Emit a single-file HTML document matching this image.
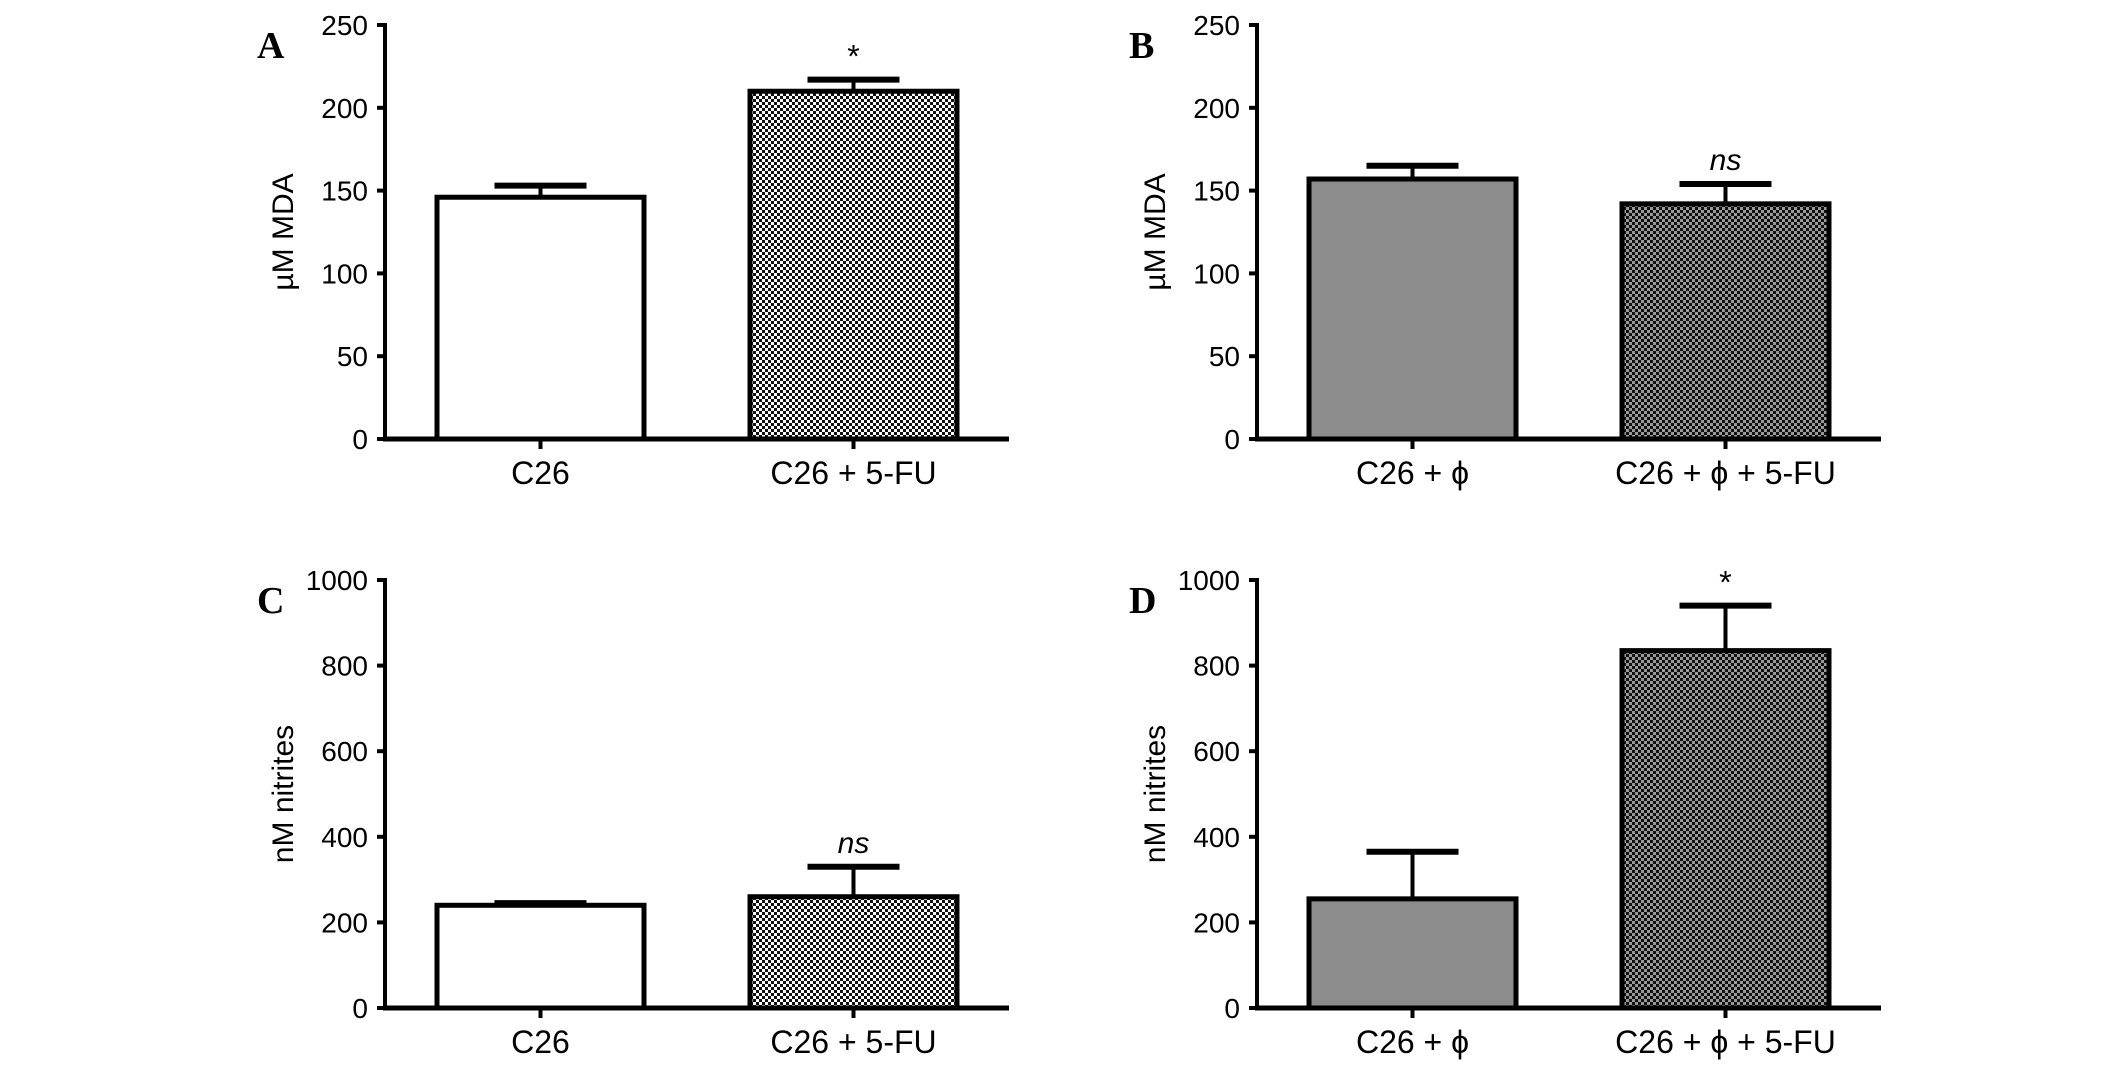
<!DOCTYPE html>
<html><head><meta charset="utf-8"><style>
html,body{margin:0;padding:0;background:#fff}
svg{display:block}
text{font-family:"Liberation Sans",Arial,sans-serif;fill:#000}
text.serif{font-family:"Liberation Serif","Times New Roman",serif}
</style></head><body>
<svg id="chart" width="2126" height="1068" viewBox="0 0 2126 1068" xmlns="http://www.w3.org/2000/svg">
<defs>
<pattern id="chkLight" width="6" height="6" patternUnits="userSpaceOnUse">
<rect width="6" height="6" fill="#fff"/><rect width="3" height="3" fill="#111"/><rect x="3" y="3" width="3" height="3" fill="#111"/>
</pattern>
<pattern id="chkDark" width="6" height="6" patternUnits="userSpaceOnUse">
<rect width="6" height="6" fill="#999"/><rect width="3" height="3" fill="#111"/><rect x="3" y="3" width="3" height="3" fill="#111"/>
</pattern>
</defs>
</svg>
<script>
const panelLetters = ['A','B','C','D'];
const yTitles = ['µM MDA','µM MDA','nM nitrites','nM nitrites'];
const yMaxes = [250,250,1000,1000];
const yTickStep = [50,50,200,200];
const catsA = ['C26','C26 + 5-FU'];
const catsB = ['C26 + ϕ','C26 + ϕ + 5-FU'];
const valuesA = [146,210];
const errorsA = [153,217];
const valuesB = [157,142];
const errorsB = [165,154];
const valuesC = [240,260];
const errorsC = [245,330];
const valuesD = [255,835];
const errorsD = [365,940];
const sigA = ['','*'];
const sigB = ['','ns'];
const sigC = ['','ns'];
const sigD = ['','*'];

const svg = document.getElementById('chart');
const NS = 'http://www.w3.org/2000/svg';
function mk(tag, attrs, parent){const e=document.createElementNS(NS,tag);for(const k in attrs)e.setAttribute(k,attrs[k]);(parent||svg).appendChild(e);return e;}

const layouts = [
 {ax:385, top:25, zero:439},
 {ax:1257, top:25, zero:439},
 {ax:385, top:580, zero:1008},
 {ax:1257, top:580, zero:1008}
];
const panelCats=[catsA,catsB,catsA,catsB];
const panelVals=[valuesA,valuesB,valuesC,valuesD];
const panelErrs=[errorsA,errorsB,errorsC,errorsD];
const panelSig=[sigA,sigB,sigC,sigD];
const fills=[['#fff','url(#chkLight)'],['#8c8c8c','url(#chkDark)'],['#fff','url(#chkLight)'],['#8c8c8c','url(#chkDark)']];

layouts.forEach((L,p)=>{
  const g=mk('g',{});
  
  
  const yScale=v=>L.zero-(v/yMaxes[p])*(L.zero-L.top);
  const xEnd=L.ax+624;
  const barL=[52,365], barW=207;
  const lt=mk('text',{x:L.ax-128,y:L.top+33,'class':'serif','font-weight':'bold','font-size':38},g);
  lt.textContent=panelLetters[p];
  
  
  const yc=(L.top+L.zero)/2;
  const yt=mk('text',{x:L.ax-92,y:yc,'font-size':30,'text-anchor':'middle',transform:`rotate(-90 ${L.ax-92} ${yc})`},g);
  yt.textContent=yTitles[p];
  
  
  panelVals[p].forEach((v,i)=>{
    const x=L.ax+barL[i], y=yScale(v), ey=yScale(panelErrs[p][i]), cx=x+barW/2;
    const er=mk('line',{x1:cx,x2:cx,y1:y,y2:ey,stroke:'#000','stroke-width':4},g);
    
    
    const cap=mk('line',{x1:cx-46,x2:cx+46,y1:ey,y2:ey,stroke:'#000','stroke-width':6},g);
    
    
    const r=mk('rect',{x:x,y:y,width:barW,height:L.zero-y,fill:fills[p][i],stroke:'#000','stroke-width':5},g);
    
    
    if(panelSig[p][i]){
      const s=mk('text',{x:cx,y:ey-(panelSig[p][i]==='*'?12:14),'font-size':panelSig[p][i]==='*'?32:30,'text-anchor':'middle','font-style':panelSig[p][i]==='ns'?'italic':'normal'},g);
      s.textContent=panelSig[p][i];
      
      
    }
    const xt=mk('line',{x1:cx,x2:cx,y1:L.zero,y2:L.zero+10,stroke:'#000','stroke-width':4},g);
    
    
    const cl=mk('text',{x:cx,y:L.zero+45,'font-size':32,'text-anchor':'middle'},g);
    cl.textContent=panelCats[p][i];
    
    
  });
  const ya=mk('line',{x1:L.ax,x2:L.ax,y1:L.top-2,y2:L.zero,stroke:'#000','stroke-width':4},g);
  
  
  const xa=mk('line',{x1:L.ax-2,x2:xEnd,y1:L.zero,y2:L.zero,stroke:'#000','stroke-width':5},g);
  
  
  for(let v=0;v<=yMaxes[p];v+=yTickStep[p]){
    const y=yScale(v);
    const tk=mk('line',{x1:L.ax-8,x2:L.ax,y1:y,y2:y,stroke:'#000','stroke-width':4},g);
    
    
    const tl=mk('text',{x:L.ax-17,y:y+10,'font-size':28,'text-anchor':'end'},g);
    tl.textContent=v;
    
    
  }
});
</script>
</body></html>
